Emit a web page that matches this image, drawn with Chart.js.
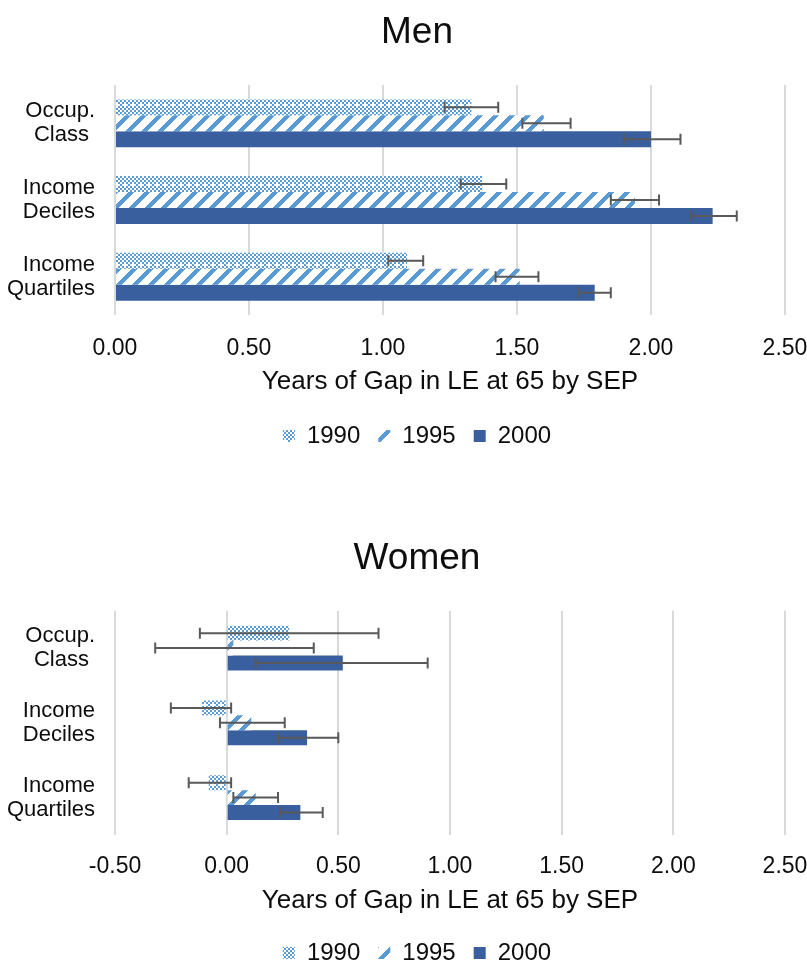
<!DOCTYPE html>
<html>
<head>
<meta charset="utf-8">
<script src="https://cdn.jsdelivr.net/npm/chart.js@4.4.1/dist/chart.umd.min.js"></script>
<style>
  html, body { margin: 0; padding: 0; background: #fff; overflow: hidden; width: 807px; height: 961px; }
  canvas { position: absolute; left: 0; }
  #men { top: 0; }
  #women { top: 520px; }
</style>
</head>
<body>
<canvas id="men" width="834" height="480"></canvas>
<canvas id="women" width="834" height="460"></canvas>
<script>
// Categories and series names
const categories = [['Occup.', 'Class '], ['Income', 'Deciles'], ['Income', 'Quartiles']];
const seriesNames = ['1990', '1995', '2000'];
const axisTitle = 'Years of Gap in LE at 65 by SEP';

// Men: gap in life expectancy at 65 (years) with confidence bounds
const men1990 = [1.33, 1.37, 1.09];
const men1995 = [1.60, 1.94, 1.51];
const men2000 = [2.00, 2.23, 1.79];
const men1990Low = [1.23, 1.29, 1.02];
const men1990High = [1.43, 1.46, 1.15];
const men1995Low = [1.52, 1.85, 1.42];
const men1995High = [1.70, 2.03, 1.58];
const men2000Low = [1.90, 2.15, 1.73];
const men2000High = [2.11, 2.32, 1.85];

// Women
const women1990 = [0.28, -0.11, -0.08];
const women1995 = [0.03, 0.11, 0.13];
const women2000 = [0.52, 0.36, 0.33];
const women1990Low = [-0.12, -0.25, -0.17];
const women1990High = [0.68, 0.02, 0.02];
const women1995Low = [-0.32, -0.03, 0.03];
const women1995High = [0.39, 0.26, 0.23];
const women2000Low = [0.13, 0.23, 0.24];
const women2000High = [0.90, 0.50, 0.43];

const FONT = "'Liberation Sans', Arial, sans-serif";
const TEXT = '#0d0d0d';
const LIGHT = '#5B9BD5';
const DARK = '#3A5F9F';

// Fill patterns
function dotPattern() {
  const c = document.createElement('canvas');
  c.width = c.height = 16;
  const g = c.getContext('2d');
  g.fillStyle = '#fff';
  g.fillRect(0, 0, 16, 16);
  g.fillStyle = LIGHT;
  for (let y = 0; y < 8; y++) {
    for (let x = 0; x < 8; x++) {
      let on = (x + y) % 2 === 0;
      if ((x === 2 && y === 4) || (x === 6 && y === 4)) on = false;
      if ((x === 1 && y === 1) || (x === 5 && y === 1)) on = true;
      if (on) g.fillRect(x * 2, y * 2, 2, 2);
    }
  }
  return g.createPattern(c, 'repeat');
}
function stripePattern() {
  const c = document.createElement('canvas');
  c.width = c.height = 16;
  const g = c.getContext('2d');
  g.fillStyle = '#fff';
  g.fillRect(0, 0, 16, 16);
  g.fillStyle = LIGHT;
  for (let y = 0; y < 16; y++) {
    for (let x = 0; x < 16; x++) {
      if ((x + y) % 16 < 6) g.fillRect(x, y, 1, 1);
    }
  }
  return g.createPattern(c, 'repeat');
}

// Draws each dataset's error bars from its low/high bounds
const errorBars = {
  id: 'errorBars',
  afterDatasetsDraw(chart) {
    const ctx = chart.ctx;
    const xs = chart.scales.x;
    ctx.save();
    ctx.strokeStyle = '#595959';
    ctx.lineWidth = 2;
    chart.data.datasets.forEach((ds, i) => {
      const meta = chart.getDatasetMeta(i);
      meta.data.forEach((bar, j) => {
        const y = bar.y;
        const x0 = xs.getPixelForValue(ds.errLow[j]);
        const x1 = xs.getPixelForValue(ds.errHigh[j]);
        ctx.beginPath();
        ctx.moveTo(x0, y); ctx.lineTo(x1, y);
        ctx.moveTo(x0, y - 5.5); ctx.lineTo(x0, y + 5.5);
        ctx.moveTo(x1, y - 5.5); ctx.lineTo(x1, y + 5.5);
        ctx.stroke();
      });
    });
    ctx.restore();
  }
};

function buildChart(id, o) {
  const common = { borderWidth: 0, borderColor: 'rgba(0,0,0,0)', categoryPercentage: o.catPct, barPercentage: 1 };
  return new Chart(document.getElementById(id), {
    type: 'bar',
    data: {
      labels: categories,
      datasets: [
        Object.assign({ label: seriesNames[0], data: o.s1, errLow: o.l1, errHigh: o.h1, backgroundColor: dotPattern() }, common),
        Object.assign({ label: seriesNames[1], data: o.s2, errLow: o.l2, errHigh: o.h2, backgroundColor: stripePattern() }, common),
        Object.assign({ label: seriesNames[2], data: o.s3, errLow: o.l3, errHigh: o.h3, backgroundColor: DARK }, common)
      ]
    },
    options: {
      indexAxis: 'y',
      responsive: false,
      animation: false,
      layout: { padding: { left: 0, right: 0, top: 0, bottom: o.padBottom } },
      plugins: {
        title: {
          display: true, text: o.title, color: TEXT,
          font: { family: FONT, size: 37, weight: 'normal', lineHeight: 1.2 },
          padding: { top: o.titleTop, bottom: o.titleBottom }
        },
        legend: {
          position: 'bottom',
          labels: { color: TEXT, font: { family: FONT, size: 24 }, boxWidth: 12, boxHeight: 12, padding: 18 }
        },
        tooltip: { enabled: false }
      },
      scales: {
        x: {
          min: o.min, max: 2.5,
          ticks: {
            stepSize: 0.5, maxRotation: 0, autoSkip: false,
            callback: v => Number(v).toFixed(2),
            color: TEXT, font: { family: FONT, size: 23, lineHeight: 1.2 }, padding: o.tickPad
          },
          grid: { color: '#D9D9D9', lineWidth: 2, drawTicks: false },
          border: { display: false },
          title: {
            display: true, text: axisTitle, color: TEXT,
            font: { family: FONT, size: 26, lineHeight: 1.2 },
            padding: { top: 0, bottom: o.axisTitlePad }
          },
          afterFit: s => { s.height = o.xAxisHeight; }
        },
        y: {
          ticks: { color: TEXT, font: { family: FONT, size: 22, lineHeight: 1.1 }, padding: 20, crossAlign: 'near' },
          grid: { display: false, drawTicks: false },
          border: { display: false },
          afterFit: s => { s.width = 115; }
        },
        // empty right-hand margin so the plot ends at 2.50 while title and legend span the full width
        margin: {
          type: 'linear', axis: 'y', position: 'right',
          ticks: { display: false }, grid: { display: false, drawTicks: false }, border: { display: false },
          afterFit: s => { s.width = 49; }
        }
      }
    },
    plugins: [errorBars]
  });
}

buildChart('men', {
  title: 'Men', min: 0,
  s1: men1990, s2: men1995, s3: men2000,
  l1: men1990Low, h1: men1990High, l2: men1995Low, h2: men1995High, l3: men2000Low, h3: men2000High,
  catPct: 0.625, titleTop: 10.8, titleBottom: 29.8, padBottom: 22,
  xAxisHeight: 91, axisTitlePad: 8.4, tickPad: 20
});

buildChart('women', {
  title: 'Women', min: -0.5,
  s1: women1990, s2: women1995, s3: women2000,
  l1: women1990Low, h1: women1990High, l2: women1995Low, h2: women1995High, l3: women2000Low, h3: women2000High,
  catPct: 0.6, titleTop: 16.8, titleBottom: 29.5, padBottom: 5,
  xAxisHeight: 88, axisTitlePad: 6.4, tickPad: 18
});
</script>
</body>
</html>
